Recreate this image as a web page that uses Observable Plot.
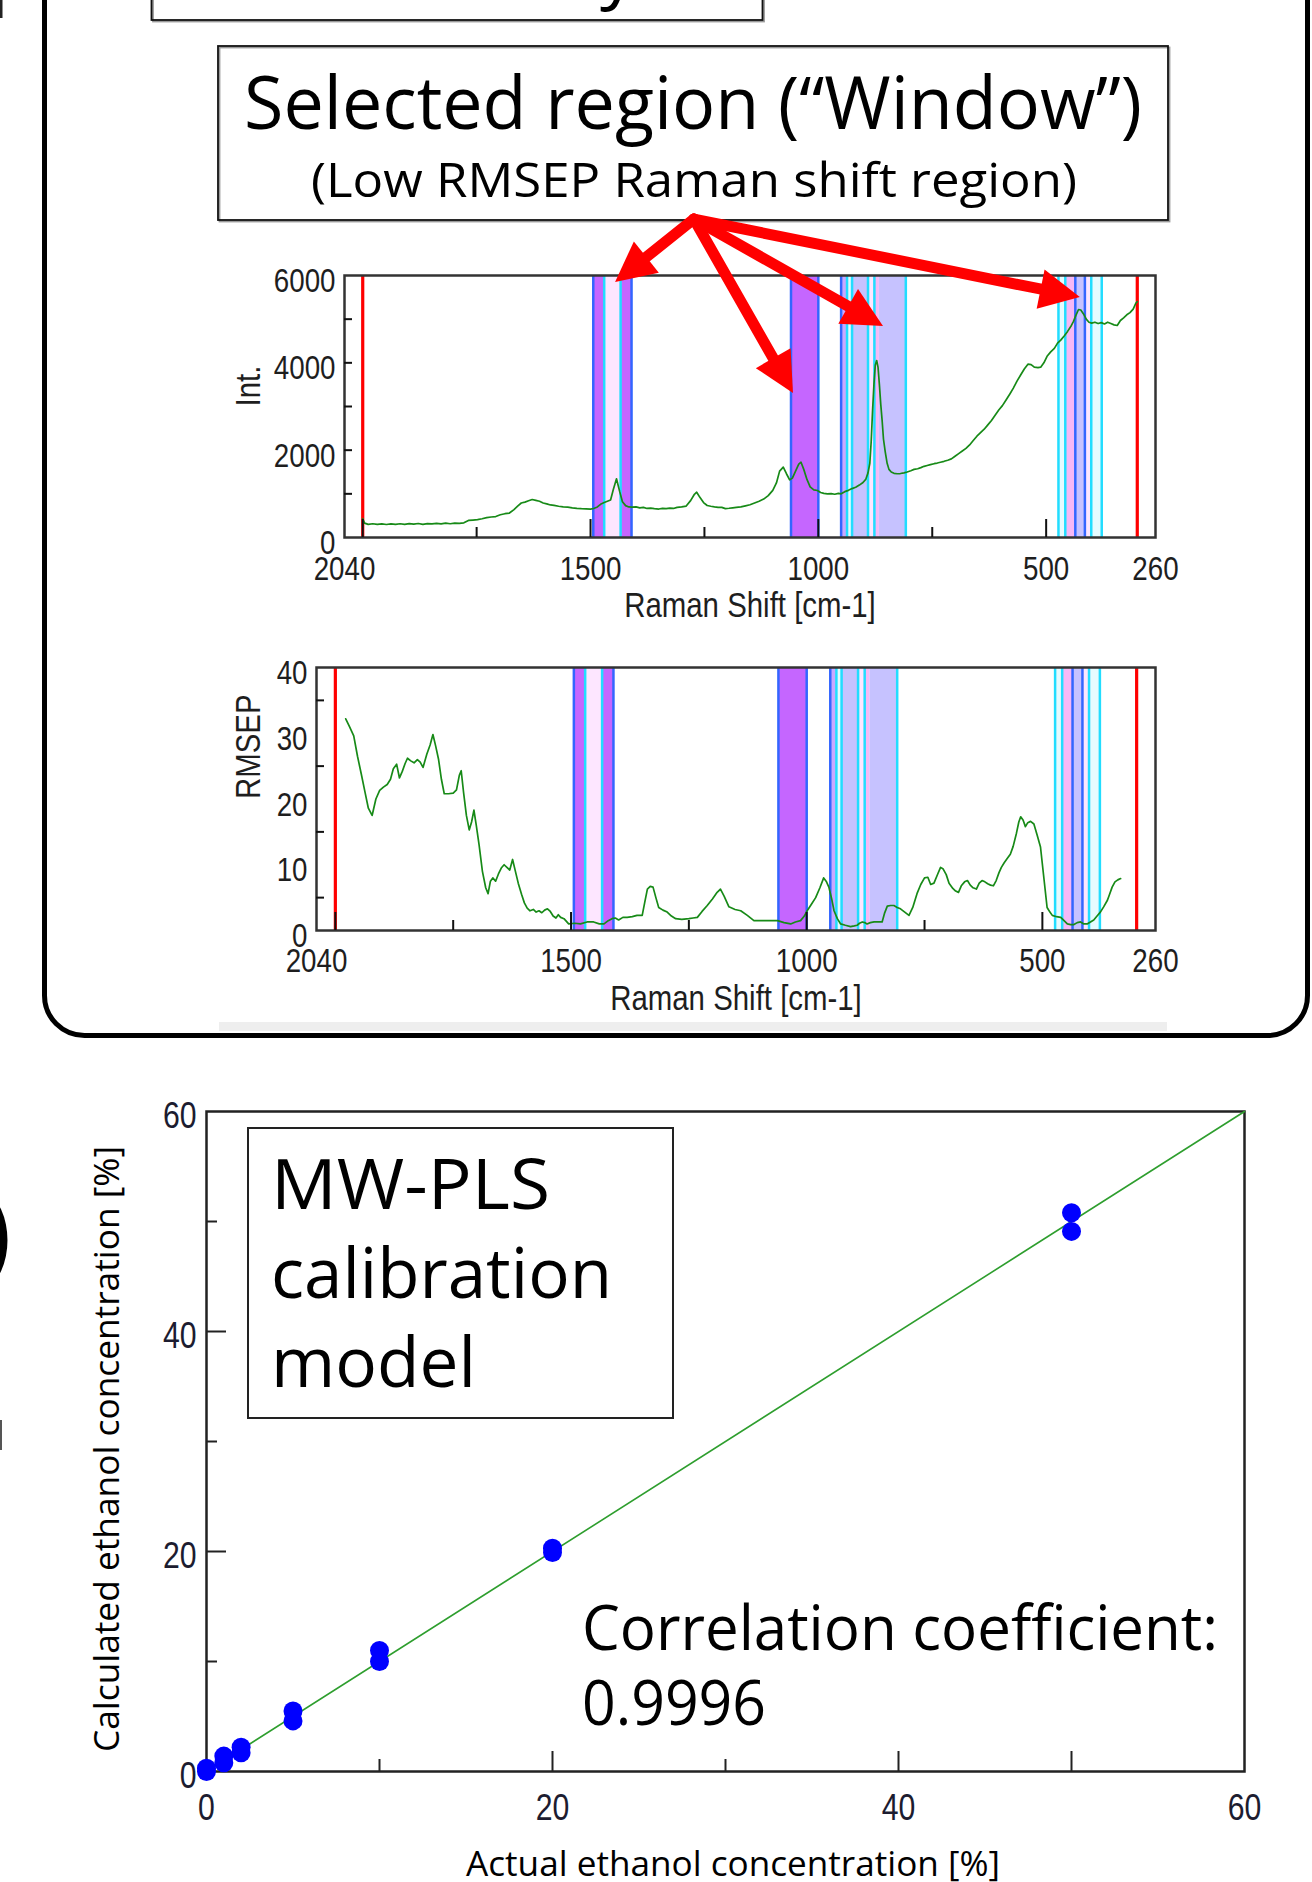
<!DOCTYPE html>
<html><head><meta charset="utf-8">
<script src="https://cdn.jsdelivr.net/npm/d3@7"></script>
<script src="https://cdn.jsdelivr.net/npm/@observablehq/plot@0.6"></script>
<style>
body{margin:0;background:#fff;}
#root{position:relative;width:1312px;height:1882px;overflow:hidden;background:#fff;}
</style></head><body><div id="root"></div>
<script>
// ---------- DATA ----------
const ramanTickLabels = [2040, 1500, 1000, 500, 260];
const ramanMajorTicks = [2000, 1500, 1000, 500];
const ramanMinorTicks = [1750, 1250, 750];
const rangeLimits = [2000, 300];

const intensityTicks = [0, 2000, 4000, 6000];
const intensityMinor = [1000, 2000, 3000, 4000, 5000];
const rmsepTicks = [0, 10, 20, 30, 40];
const rmsepMinor = [5, 15, 25, 35];

const intensityShift = [2000,1996,1988,1978,1968,1958,1948,1938,1928,1918,1908,1898,1888,1878,1868,1858,1848,1838,1828,1818,1808,1798,1788,1778,1768,1758,1748,1738,1728,1718,1708,1698,1688,1678,1668,1660,1652,1644,1636,1628,1620,1612,1604,1596,1588,1580,1570,1560,1550,1540,1530,1520,1510,1500,1493,1485,1478,1470,1463,1456,1450,1443,1436,1430,1423,1416,1409,1400,1392,1384,1376,1368,1360,1350,1342,1334,1326,1318,1310,1300,1290,1280,1272,1267,1260,1252,1244,1236,1228,1220,1212,1204,1196,1188,1180,1170,1160,1150,1140,1130,1120,1110,1100,1092,1085,1077,1070,1063,1057,1050,1043,1038,1032,1025,1018,1010,1002,995,988,980,972,964,956,950,942,934,926,918,910,902,896,891,887,884,881,878,875,872,869,866,863,860,857,853,849,845,840,834,827,820,812,805,797,790,782,775,768,761,754,746,739,732,724,716,708,700,692,684,676,668,660,652,644,636,628,620,612,604,596,588,580,572,564,556,548,540,533,526,518,512,505,498,490,482,475,468,460,453,446,440,435,429,424,418,412,406,400,393,386,379,372,365,358,351,344,337,330,323,316,309,303,300];
const intensityValue = [430,330,300,315,300,310,298,312,300,315,302,318,305,320,300,318,310,325,312,328,315,330,322,335,390,400,410,430,455,470,480,520,545,560,640,720,790,810,840,870,850,830,790,770,745,735,715,700,695,680,668,660,655,650,664,700,760,800,830,860,1100,1344,1050,820,730,700,694,700,680,690,665,672,660,652,668,660,672,665,690,700,720,850,990,1037,920,800,733,715,700,688,690,662,670,680,690,702,725,750,790,830,880,960,1080,1250,1520,1610,1460,1320,1360,1520,1680,1724,1560,1330,1160,1090,1076,1030,1010,1000,1005,990,1010,1000,1050,1080,1120,1150,1200,1260,1330,1480,1700,2200,2900,3500,3950,4053,3900,3500,3050,2680,2250,1950,1700,1560,1500,1470,1460,1465,1480,1500,1530,1560,1575,1600,1630,1650,1670,1690,1705,1724,1745,1770,1800,1860,1920,1980,2040,2120,2220,2320,2400,2480,2580,2680,2800,2920,3020,3150,3280,3420,3580,3720,3860,3970,3960,3900,3890,3900,4000,4150,4250,4330,4450,4520,4620,4720,4830,4950,5080,5221,5210,5120,5000,4930,4910,4930,4900,4920,4890,4930,4900,4870,4855,4969,5030,5100,5150,5230,5370,5400];

const rmsepShift = [1978,1970,1961,1953,1945,1937,1930,1922,1914,1906,1898,1890,1883,1877,1870,1864,1858,1852,1847,1840,1833,1826,1820,1814,1806,1799,1793,1787,1781,1775,1769,1760,1750,1743,1737,1733,1728,1722,1716,1711,1706,1701,1695,1688,1681,1676,1671,1666,1660,1654,1648,1642,1636,1630,1624,1618,1612,1605,1599,1593,1587,1580,1574,1568,1562,1556,1550,1544,1538,1532,1527,1522,1515,1505,1492,1480,1466,1452,1440,1430,1421,1413,1406,1399,1390,1381,1370,1360,1349,1343,1338,1332,1326,1320,1314,1305,1296,1287,1278,1265,1250,1241,1232,1222,1211,1200,1190,1183,1175,1165,1152,1140,1126,1112,1095,1080,1062,1048,1034,1024,1013,1005,999,990,981,972,964,958,953,947,942,935,928,918,907,899,893,888,882,877,872,865,857,849,840,835,829,822,815,808,801,792,783,775,766,758,750,743,737,730,722,716,711,704,698,690,684,678,672,665,659,653,647,640,634,628,622,616,610,604,598,592,587,581,575,568,562,555,550,546,541,536,531,525,518,511,504,497,490,484,479,470,461,454,447,440,433,426,419,412,405,398,391,384,377,370,362,357,352,346,340,334];
const rmsepValue = [32.2,31.0,29.6,26.5,23.8,21.0,18.6,17.5,20.0,21.3,21.8,22.2,23.0,24.6,25.3,23.2,24.2,25.4,26.2,25.8,25.5,26.0,25.6,24.8,26.8,28.2,29.8,28.0,26.0,23.0,20.8,20.8,20.9,21.4,23.6,24.3,21.0,17.5,15.3,16.5,18.3,16.0,13.0,9.0,6.5,5.6,7.5,8.0,7.5,8.6,9.5,10.0,9.6,9.2,10.8,9.0,7.2,5.5,4.2,3.4,3.0,3.2,2.8,3.0,2.7,3.1,3.3,2.9,2.2,1.9,2.4,2.0,1.8,1.0,1.1,1.0,1.3,1.3,1.0,1.0,1.5,1.8,1.9,1.6,2.0,2.0,2.1,2.3,2.3,4.5,6.3,6.7,6.6,5.0,3.5,3.1,2.8,2.2,1.8,1.7,1.8,1.9,2.0,2.9,3.8,4.8,5.8,6.3,5.2,3.6,3.2,3.0,2.3,1.5,1.5,1.5,1.5,1.2,1.0,1.3,1.5,2.2,3.0,4.0,5.0,6.5,8.0,7.4,6.6,4.8,3.0,1.8,1.0,0.8,0.6,0.7,0.8,1.1,1.3,1.2,1.0,1.2,1.3,1.3,1.3,2.6,3.7,3.8,3.8,3.5,3.3,2.8,2.3,3.5,5.6,7.0,8.0,8.1,7.0,7.2,8.6,9.6,9.4,8.5,7.2,6.4,6.0,5.8,6.8,7.4,7.6,6.9,6.5,6.3,7.2,7.6,7.4,7.1,6.9,6.8,7.6,8.8,9.6,10.3,10.9,11.6,12.8,14.8,16.5,17.3,16.8,15.8,16.4,16.6,16.2,14.5,12.7,8.1,3.5,2.8,2.3,2.1,2.0,1.5,1.0,0.9,0.9,1.2,1.3,1.0,1.0,1.3,1.6,2.2,2.8,3.6,4.6,5.6,6.6,7.4,7.7,7.9];

// selected windows (Raman shift, cm-1) and their overlap type
const bandStart = [1494,1470,1434,1060,950,937,926,891,877,866,473,458,436,415,401];
const bandEnd   = [1470,1434,1410,1000,937,926,891,877,866,808,458,436,415,401,378];
const bandKind  = ["single","overlap","single","single","mixed","gap","lavender","overlap","pink","lavender","gap","pink","lavender","overlap","gap"];
const edgeShift = [1494,1470,1434,1410,1060,1000,950,937,926,891,877,808,473,458,436,415,401,378];
const edgeKind  = ["blue","cyan","cyan","blue","blue","blue","blue","cyan","cyan","cyan","cyan","cyan","cyan","cyan","blue","blue","cyan","cyan"];

// arrows: origin and tips in the intensity chart's (shift, intensity) coordinates
const arrowOrigin = [1272, 7282];
const arrowTipShift = [1445, 1054.5, 857, 425];
const arrowTipValue = [5840, 3298, 4832, 5496];

// calibration
const actualConc = [0, 0, 1, 1, 2, 2, 5, 5, 10, 10, 20, 20, 50, 50];
const calcConc   = [0.3, 0.0, 1.4, 0.8, 2.2, 1.7, 5.5, 4.6, 11.0, 10.0, 20.3, 19.9, 50.8, 49.1];
const idealLine = [0, 60];
const concTicks = [0, 20, 40, 60];
const concLongTicksX = [20, 40, 50];
const concShortTicksX = [10, 30];
const concLongTicksY = [20, 40];
const concShortTicksY = [10, 30, 50];

// ---------- STYLES ----------
const bandColor = {single:"#c566ff", overlap:"#fde6ff", mixed:"#c9a8ff", gap:"#e6fbff", lavender:"#c6c2ff", pink:"#f6b8f6"};
const edgeColor = {blue:"#3366ff", cyan:"#22ddff"};
const ARIAL = "'Liberation Sans', Arial, sans-serif";
const OPEN = "'Open Sans', 'Noto Sans', sans-serif";
const root = document.getElementById("root");

// narrow the Arial-like chart texts to the condensed look of the original
function condense(svg, factor) {
  d3.select(svg).selectAll("text").each(function () {
    const w = this.getComputedTextLength();
    if (w > 0) {
      this.setAttribute("textLength", (w * factor).toFixed(1));
      this.setAttribute("lengthAdjust", "spacingAndGlyphs");
    }
  });
}

function ramanChart(o) {
  const idx = d3.range(o.shift.length);
  const bands = d3.range(bandStart.length);
  const edges = d3.range(edgeShift.length);
  const fw = o.width - o.mL - o.mR, fh = o.height - o.mT - o.mB;
  const svg = Plot.plot({
    width: o.width, height: o.height,
    marginLeft: o.mL, marginRight: o.mR, marginTop: o.mT, marginBottom: o.mB,
    x: {domain: [ramanTickLabels[0], ramanTickLabels[ramanTickLabels.length - 1]], axis: null},
    y: {domain: [o.yTicks[0], o.yTicks[o.yTicks.length - 1]], axis: null},
    style: {background: "transparent", overflow: "visible"},
    marks: [
      Plot.rect(bands, {x1: i => bandStart[i], x2: i => bandEnd[i], y1: () => o.yTicks[0], y2: () => o.yTicks[o.yTicks.length - 1], fill: i => bandColor[bandKind[i]]}),
      Plot.ruleX(edges, {x: i => edgeShift[i], stroke: i => edgeColor[edgeKind[i]], strokeWidth: 2.5}),
      Plot.ruleX(rangeLimits, {x: d => d, stroke: "#ff0000", strokeWidth: 3.2}),
      Plot.line(idx, {x: i => o.shift[i], y: i => o.value[i], stroke: "#178a17", strokeWidth: 1.7}),
      Plot.frame({stroke: "#333", strokeWidth: 2.5}),
      Plot.ruleX(ramanMajorTicks, {x: d => d, insetTop: fh - 18, stroke: "#111", strokeWidth: 2}),
      Plot.ruleX(ramanMinorTicks, {x: d => d, insetTop: fh - 10, stroke: "#111", strokeWidth: 2}),
      Plot.ruleY(o.yMinor, {y: d => d, insetRight: fw - 8, stroke: "#111", strokeWidth: 2}),
      Plot.text(ramanTickLabels, {x: d => d, frameAnchor: "bottom", text: d => String(d), lineAnchor: "top", dy: o.xPad, fontSize: 33, fontFamily: ARIAL, fill: "#1e1e1e"}),
      Plot.text(o.yTicks, {y: d => d, frameAnchor: "left", text: d => String(d), textAnchor: "end", dx: -9, dy: 6, fontSize: 33, fontFamily: ARIAL, fill: "#1e1e1e"}),
      Plot.text([o.xLabel], {frameAnchor: "bottom", dy: 79, fontSize: 35, fontFamily: ARIAL, fill: "#1e1e1e"}),
      Plot.text([o.yLabel], {frameAnchor: "left", dx: o.yLabelDx, rotate: -90, fontSize: 35, fontFamily: ARIAL, fill: "#1e1e1e"})
    ]
  });
  svg.style.position = "absolute";
  svg.style.left = o.left + "px";
  svg.style.top = o.top + "px";
  root.appendChild(svg);
  condense(svg, 0.84);
  return svg;
}

const chart1 = ramanChart({left: 200, top: 250, width: 980, height: 390, mL: 144, mR: 25, mT: 25, mB: 103,
  shift: intensityShift, value: intensityValue, yTicks: intensityTicks, yMinor: intensityMinor,
  xPad: 19, xLabel: "Raman Shift [cm-1]", yLabel: "Int.", yLabelDx: -96});
const chart2 = ramanChart({left: 200, top: 640, width: 980, height: 375, mL: 116, mR: 25, mT: 27, mB: 85,
  shift: rmsepShift, value: rmsepValue, yTicks: rmsepTicks, yMinor: rmsepMinor,
  xPad: 18, xLabel: "Raman Shift [cm-1]", yLabel: "RMSEP", yLabelDx: -68});

// calibration chart
{
  const W = 1252, H = 802, mL = 146, mR = 68, mT = 31, mB = 111;
  const fw = W - mL - mR, fh = H - mT - mB;
  const pts = d3.range(actualConc.length);
  const svg = Plot.plot({
    width: W, height: H, marginLeft: mL, marginRight: mR, marginTop: mT, marginBottom: mB,
    x: {domain: [concTicks[0], concTicks[concTicks.length - 1]], axis: null},
    y: {domain: [concTicks[0], concTicks[concTicks.length - 1]], axis: null},
    style: {background: "transparent", overflow: "visible"},
    marks: [
      Plot.frame({stroke: "#222", strokeWidth: 2.5}),
      Plot.ruleX(concLongTicksX, {x: d => d, insetTop: fh - 20, stroke: "#222", strokeWidth: 2}),
      Plot.ruleX(concShortTicksX, {x: d => d, insetTop: fh - 12, stroke: "#222", strokeWidth: 2}),
      Plot.ruleY(concLongTicksY, {y: d => d, insetRight: fw - 20, stroke: "#222", strokeWidth: 2}),
      Plot.ruleY(concShortTicksY, {y: d => d, insetRight: fw - 11, stroke: "#222", strokeWidth: 2}),
      Plot.line(idealLine, {x: d => d, y: d => d, stroke: "#2e9e2e", strokeWidth: 1.6}),
      Plot.dot(pts, {x: i => actualConc[i], y: i => calcConc[i], r: 9.5, fill: "#0000ff"}),
      Plot.text(concTicks, {x: d => d, frameAnchor: "bottom", text: d => String(d), lineAnchor: "top", dy: 23, fontSize: 36, fontFamily: ARIAL, fill: "#1c1c30"}),
      Plot.text(concTicks, {y: d => d, frameAnchor: "left", text: d => String(d), textAnchor: "end", dx: -10, dy: 5, fontSize: 36, fontFamily: ARIAL, fill: "#1c1c30"})
    ]
  });
  svg.style.position = "absolute";
  svg.style.left = "60px";
  svg.style.top = "1080px";
  root.appendChild(svg);
  condense(svg, 0.84);
}

// ---------- OVERLAY (boxes, annotation text, arrows) ----------
const ov = d3.create("svg").attr("width", 1312).attr("height", 1882)
  .style("position", "absolute").style("left", "0px").style("top", "0px").style("overflow", "hidden");
root.appendChild(ov.node());

function txt(s, x, y, size, len, opts = {}) {
  const t = ov.append("text").attr("x", x).attr("y", y).attr("font-family", opts.font || OPEN)
    .attr("font-size", size).attr("fill", opts.fill || "#000").text(s);
  if (len) t.attr("textLength", len).attr("lengthAdjust", "spacingAndGlyphs");
  if (opts.anchor) t.attr("text-anchor", opts.anchor);
  if (opts.rotate) t.attr("transform", `rotate(${opts.rotate},${x},${y})`);
  return t;
}
function box(x, y, w, h, sw, rx = 0) {
  ov.append("rect").attr("x", x + 1.5).attr("y", y + 1.5).attr("width", w).attr("height", h).attr("rx", rx)
    .attr("fill", "none").attr("stroke", "#9a9a9a").attr("stroke-width", sw);
  ov.append("rect").attr("x", x).attr("y", y).attr("width", w).attr("height", h).attr("rx", rx)
    .attr("fill", "none").attr("stroke", "#111").attr("stroke-width", sw);
}

// outer rounded panel
ov.append("rect").attr("x", 44.5).attr("y", -100).attr("width", 1263).attr("height", 1135.5).attr("rx", 40)
  .attr("fill", "none").attr("stroke", "#000").attr("stroke-width", 5);
// light strip under RMSEP chart
ov.append("rect").attr("x", 219).attr("y", 1022).attr("width", 948).attr("height", 9).attr("fill", "#eeeeee");

// cut-off box at the top and glyph remnants at the left edge
box(151.5, -50, 611, 70, 1.8);
txt("y", 600, -6, 74);
txt(")", -18, 1268, 100);
ov.append("rect").attr("x", 0).attr("y", 0).attr("width", 2.5).attr("height", 18).attr("fill", "#222");
ov.append("rect").attr("x", 0).attr("y", 1420).attr("width", 2).attr("height", 30).attr("fill", "#555");

// title box
box(218, 46, 950, 174, 1.8);
txt("Selected region (\u201CWindow\u201D)", 244, 129, 74, 898);
txt("(Low RMSEP Raman shift region)", 311, 197, 47, 766);

// calibration annotations
ov.append("rect").attr("x", 248).attr("y", 1128).attr("width", 425).attr("height", 290)
  .attr("fill", "#fff").attr("stroke", "#222").attr("stroke-width", 2);
txt("MW-PLS", 271, 1209, 70, 279);
txt("calibration", 271, 1298, 70, 341);
txt("model", 271, 1387, 70, 205);
txt("Correlation coefficient:", 582, 1650, 63, 636);
txt("0.9996", 582, 1725, 63, 184);
txt("Calculated ethanol concentration [%]", 119, 1449, 35, 606, {anchor: "middle", rotate: -90});
txt("Actual ethanol concentration [%]", 733, 1876, 35, 534, {anchor: "middle"});

// arrows through the intensity chart's scales
{
  const sx = chart1.scale("x"), sy = chart1.scale("y");
  const offX = 200, offY = 250;
  const ox = offX + sx.apply(arrowOrigin[0]), oy = offY + sy.apply(arrowOrigin[1]);
  const headLen = 40, headHalf = 20, shaft = 11;
  const g = ov.append("g");
  arrowTipShift.forEach((s, i) => {
    const tx = offX + sx.apply(s), ty = offY + sy.apply(arrowTipValue[i]);
    const dx = tx - ox, dy = ty - oy, L = Math.hypot(dx, dy);
    const ux = dx / L, uy = dy / L, nx = -uy, ny = ux;
    const bx = tx - ux * headLen, by = ty - uy * headLen;
    g.append("line").attr("x1", ox).attr("y1", oy).attr("x2", bx + ux * 2).attr("y2", by + uy * 2)
      .attr("stroke", "#ff0000").attr("stroke-width", shaft).attr("stroke-linecap", "round");
    g.append("path").attr("d", `M${tx},${ty}L${bx + nx * headHalf},${by + ny * headHalf}L${bx - nx * headHalf},${by - ny * headHalf}Z`)
      .attr("fill", "#ff0000");
  });
}
</script></body></html>
